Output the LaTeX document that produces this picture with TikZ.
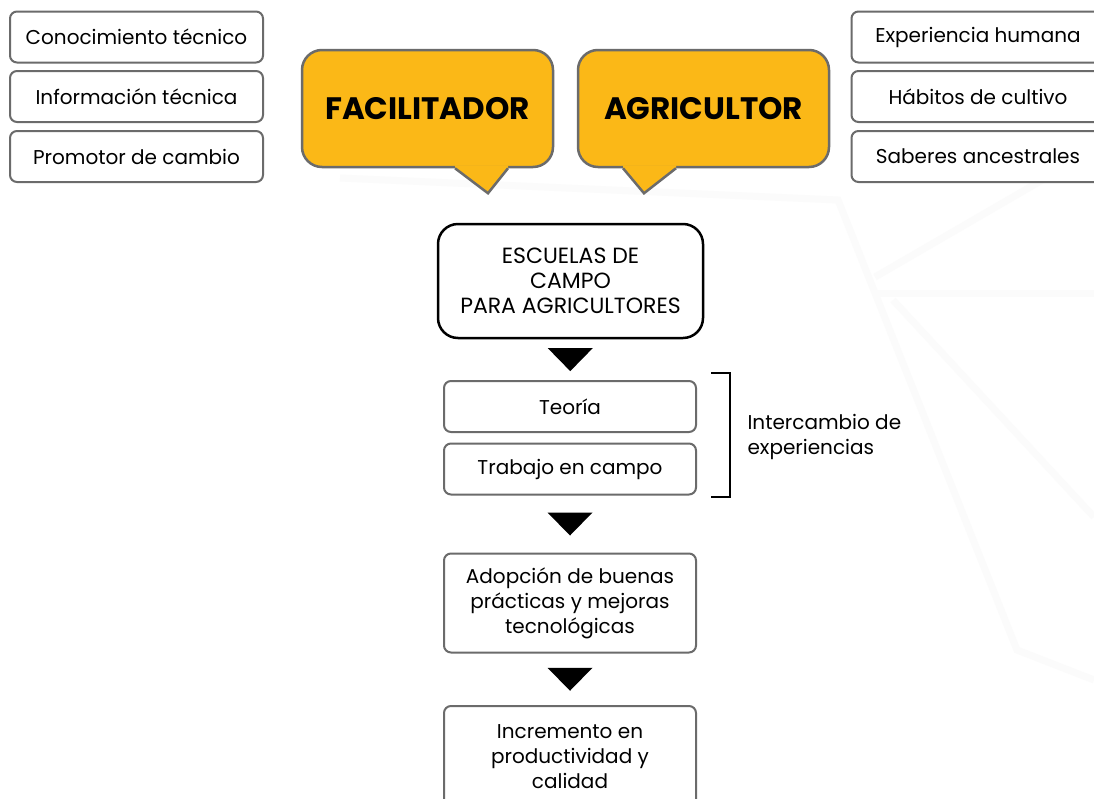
\documentclass[tikz,border=0pt]{standalone}
\usepackage{fontspec}
\setmainfont{Poppins}
\usepackage{tikz}
\usetikzlibrary{calc}
\definecolor{bubbleyellow}{HTML}{FBB817}
\definecolor{boxgray}{HTML}{6B6B6B}
\definecolor{watermark}{HTML}{FBFBFB}

% filled triangle half way between two nodes
\newcommand{\flowarrow}[2]{%
  \fill[black] ($(#1.south)!0.5!(#2.north)+(-22.5,-11.5)$) -- ++(45,0) -- ++(-22.5,23) -- cycle;}
% pointer under a bubble: base start, tip, base end (offsets from south)
\newcommand{\pointer}[4]{%
  \fill[bubbleyellow] ($(#1.south)+(#2,-3)$) -- ($(#1.south)+(#4,-3)$) -- ($(#1.south)+(#4,0)$)
     -- ($(#1.south)+(#3,25)$) -- ($(#1.south)+(#2,0)$) -- cycle;
  \draw[boxgray, line width=2.5pt, line join=miter] ($(#1.south)+(#2,0)$) -- ($(#1.south)+(#3,25)$)
     -- ($(#1.south)+(#4,0)$);}

\begin{document}
\begin{tikzpicture}[x=1pt, y=-1pt,
    txt/.style={font=\fontsize{20}{25}\selectfont, align=center},
    infobox/.style={txt, draw=boxgray, line width=2pt, rounded corners=7pt, fill=white,
                    minimum width=253pt, minimum height=51pt, inner sep=0pt},
    stepbox/.style={infobox, minimum width=252pt},
    bubble/.style={draw=boxgray, fill=bubbleyellow, line width=2.5pt, rounded corners=20pt,
                   minimum width=251pt, minimum height=117pt,
                   font=\fontsize{31}{34}\selectfont\bfseries},
    mainbox/.style={txt, font=\fontsize{22}{25}\selectfont, draw=black, line width=2.5pt,
                    rounded corners=20pt, fill=white, minimum width=265pt, minimum height=114pt}]

  \useasboundingbox (0,0) rectangle (1094,798);
  \fill[white] (0,0) rectangle (1094,798);

  % faint watermark lines
  \draw[watermark, line width=7pt] (340,178) -- (838,200) -- (1017,650) -- (1094,680);
  \draw[watermark, line width=7pt] (875,277) -- (1094,150);
  \draw[watermark, line width=7pt] (875,293) -- (1094,293);
  \draw[watermark, line width=7pt] (893,300) -- (1094,517);

  % left column
  \node[infobox] (con) at (136.5,37) {Conocimiento técnico};
  \node[infobox] (inf) at (136.5,96.5) {Información técnica};
  \node[infobox] (pro) at (136.5,156.5) {Promotor de cambio};

  % right column
  \node[infobox] (exp) at (978,37) {Experiencia humana};
  \node[infobox] (hab) at (978,96.5) {Hábitos de cultivo};
  \node[infobox] (sab) at (978,156.5) {Saberes ancestrales};

  % speech bubbles
  \node[bubble] (fac) at (427.5,108.5) {FACILITADOR};
  \node[bubble] (agr) at (703.5,108.5) {AGRICULTOR};
  \pointer{fac}{27.5}{60.5}{80.5}
  \pointer{agr}{-80.5}{-59.5}{-27.5}

  % flow
  \node[mainbox] (esc) at (570.5,281) {ESCUELAS DE\\CAMPO\\PARA AGRICULTORES};
  \node[stepbox] (teo) at (570,406.5) {Teoría};
  \node[stepbox] (tra) at (570,469) {Trabajo en campo};
  \node[stepbox, minimum height=99pt] (ado) at (570,603)
    {Adopción de buenas\\prácticas y mejoras\\tecnológicas};
  \node[stepbox, minimum height=102pt] (inc) at (570,757)
    {Incremento en\\productividad y\\calidad};

  \flowarrow{esc}{teo}
  \flowarrow{tra}{ado}
  \flowarrow{ado}{inc}

  % bracket
  \draw[line width=2.5pt] (711,373) -- (730,373) -- (730,497) -- (711,497);
  \node[txt, align=left, anchor=west] (int) at (744,436.5) {Intercambio de\\experiencias};
\end{tikzpicture}
\end{document}
